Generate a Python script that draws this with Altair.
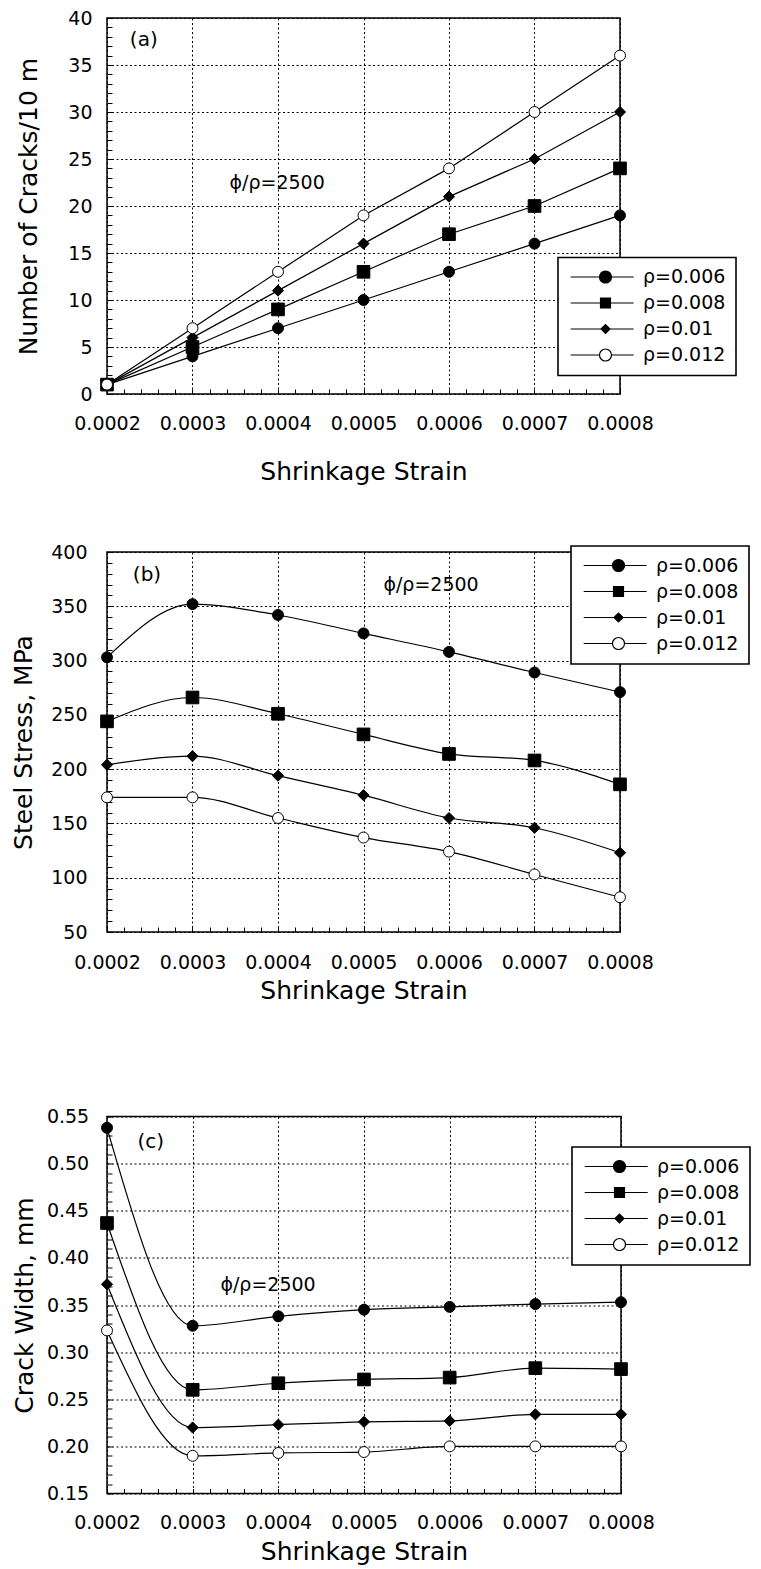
import altair as alt
import pandas as pd

# ---------------- data ----------------
strain = [0.0002, 0.0003, 0.0004, 0.0005, 0.0006, 0.0007, 0.0008]
series = ["ρ=0.006", "ρ=0.008", "ρ=0.01", "ρ=0.012"]

cracks_006 = [1, 4, 7, 10, 13, 16, 19]
cracks_008 = [1, 5, 9, 13, 17, 20, 24]
cracks_010 = [1, 6, 11, 16, 21, 25, 30]
cracks_012 = [1, 7, 13, 19, 24, 30, 36]

stress_006 = [303, 352, 342, 325, 308, 289, 271]
stress_008 = [244, 266, 251, 232, 214, 208, 186]
stress_010 = [204, 212, 194, 176, 155, 146, 123]
stress_012 = [174, 174, 155, 137, 124, 103, 82]

width_006 = [0.538, 0.328, 0.338, 0.345, 0.348, 0.351, 0.353]
width_008 = [0.437, 0.260, 0.267, 0.271, 0.273, 0.283, 0.282]
width_010 = [0.372, 0.220, 0.223, 0.226, 0.227, 0.234, 0.234]
width_012 = [0.323, 0.190, 0.193, 0.194, 0.200, 0.200, 0.200]

x_ticks = [round(0.0002 + 0.00002 * i, 6) for i in range(31)]
y_ticks_a = list(range(0, 41))
y_ticks_b = list(range(50, 401, 10))
y_ticks_c = [round(0.15 + 0.01 * i, 2) for i in range(41)]

FONT = "DejaVu Sans"

marker_shapes = ["circle", "square", "diamond", "circle"]
marker_sizes = [120, 160, 125, 120]
marker_fills = ["black", "black", "black", "white"]
legend_paths = [
    "M-5.8,0L-1,0M1,0L4.7,0M-1,0A1,1 0 1 1 1,0A1,1 0 1 1 -1,0Z",
    "M-5.8,0L-0.83,0M0.83,0L4.7,0M-0.83,-0.83L0.83,-0.83L0.83,0.83L-0.83,0.83Z",
    "M-5.8,0L-0.75,0M0.75,0L4.7,0M-0.75,0L0,-0.75L0.75,0L0,0.75Z",
    "M-5.8,0L-1,0M1,0L4.7,0M-1,0A1,1 0 1 1 1,0A1,1 0 1 1 -1,0Z",
]
legend_strokes = ["black", "black", "black", "black"]

X_MAJOR = "abs(datum.value*10000 - round(datum.value*10000)) < 0.000001"


def long_df(cols):
    rows = []
    for s, vals in zip(series, cols):
        for x, v in zip(strain, vals):
            rows.append({"strain": x, "value": v, "series": s})
    return pd.DataFrame(rows)


def panel(cols, ydom, yticks, ymajor, yfmt, ytitle, interp, w, h,
          ylp, ytp, xlp, xtp, legx, legy, notes):
    df = long_df(cols)
    common = dict(
        offset=-5, domain=False, tickSize=5, tickColor="black", tickWidth=1,
        tickCount=200, grid=True, gridColor="black", gridDash=[2, 2.5], gridWidth=1,
        labelOverlap=False, labelFlush=False,
        labelFont=FONT, labelFontSize=19, labelColor="black",
        titleFont=FONT, titleFontSize=25, titleFontWeight="normal", titleColor="black",
    )
    xaxis = alt.Axis(
        title="Shrinkage Strain", values=x_ticks, format=".4f",
        labelExpr=f"({X_MAJOR}) ? datum.label : ''",
        gridOpacity={"condition": {"test": X_MAJOR, "value": 1}, "value": 0},
        labelPadding=xlp, titlePadding=xtp, **common)
    yaxis = alt.Axis(
        title=ytitle, values=yticks, format=yfmt,
        labelExpr=f"({ymajor}) ? datum.label : ''",
        gridOpacity={"condition": {"test": ymajor, "value": 1}, "value": 0},
        labelPadding=ylp, titlePadding=ytp, **common)
    x = alt.X("strain:Q", scale=alt.Scale(domain=[0.0002, 0.0008], nice=False, zero=False), axis=xaxis)
    y = alt.Y("value:Q", scale=alt.Scale(domain=ydom, nice=False, zero=False), axis=yaxis)

    base = alt.Chart(df)
    lines = base.mark_line(color="black", strokeWidth=1.2, interpolate=interp).encode(
        x=x, y=y, detail="series:N")
    layers = [lines]
    for s, shp, sz, fc in zip(series, marker_shapes, marker_sizes, marker_fills):
        layers.append(
            base.transform_filter(alt.datum.series == s).mark_point(
                shape=shp, size=sz, filled=True, fill=fc, stroke="black",
                strokeWidth=1, opacity=1, fillOpacity=1).encode(x=x, y=y))

    leg = alt.Legend(
        title=None, orient="none", legendX=legx, legendY=legy,
        symbolSize=144, symbolStrokeWidth=1.2,
        symbolOffset=28, labelOffset=28, labelFont=FONT, labelFontSize=19,
        labelColor="black", padding=10, rowPadding=6,
        strokeColor="black", fillColor="white", cornerRadius=0, labelLimit=0,
    )
    legend_layer = base.transform_filter("false").mark_point(
        filled=True, strokeWidth=1.2, opacity=1, size=144).encode(
        shape=alt.Shape("series:N", scale=alt.Scale(domain=series, range=legend_paths), legend=leg),
        fill=alt.Fill("series:N", scale=alt.Scale(domain=series, range=marker_fills), legend=leg),
        stroke=alt.Stroke("series:N", scale=alt.Scale(domain=series, range=legend_strokes), legend=leg),
    )
    layers.append(legend_layer)

    ndf = pd.DataFrame(notes)
    texts = alt.Chart(ndf).mark_text(font=FONT, color="black", align="center", baseline="middle").encode(
        x=alt.X("x:Q"), y=alt.Y("y:Q"), text="t:N", size=alt.Size("fs:Q", scale=None))
    layers.append(texts)

    return alt.layer(*layers).properties(width=w, height=h)


pa = panel([cracks_006, cracks_008, cracks_010, cracks_012], [0, 40], y_ticks_a,
           "datum.value % 5 == 0", "d", "Number of Cracks/10 m", "linear", 513, 376,
           15, 26.5, 20.5, 26, 451, 239.5,
           {"x": [0.000243, 0.000399], "y": [37.7, 22.45], "t": ["(a)", "ϕ/ρ=2500"], "fs": [20, 19]})
pb = panel([stress_006, stress_008, stress_010, stress_012], [50, 400], y_ticks_b,
           "datum.value % 50 == 0", "d", "Steel Stress, MPa", "monotone", 513, 380,
           20, 14.5, 21.5, 5.5, 464, -6,
           {"x": [0.0002468, 0.000579], "y": [378.5, 370], "t": ["(b)", "ϕ/ρ=2500"], "fs": [20, 19]})
pc = panel([width_006, width_008, width_010, width_012], [0.15, 0.55], y_ticks_c,
           "abs(datum.value*20 - round(datum.value*20)) < 0.000001", ".2f", "Crack Width, mm",
           "monotone", 514, 377,
           18.3, 8.5, 20, 7, 465, 30.5,
           {"x": [0.000251, 0.000388], "y": [0.523, 0.371], "t": ["(c)", "ϕ/ρ=2500"], "fs": [20, 19]})

RES = dict(x="independent", y="independent", shape="independent", fill="independent",
           stroke="independent", size="independent")
LRES = dict(shape="independent", fill="independent", stroke="independent", size="independent")

top = alt.vconcat(pa, pb, spacing=56).resolve_scale(**RES).resolve_legend(**LRES)
chart = (
    alt.vconcat(top, pc, spacing=102.5)
    .resolve_scale(**RES)
    .resolve_legend(**LRES)
    .properties(padding={"left": 2, "top": 0, "right": 0, "bottom": 0})
    .configure_view(stroke="black", strokeWidth=1.5)
    .configure_legend(strokeWidth=1.6)
)

chart.save("out.html", embed_options={"renderer": "svg", "actions": False})
